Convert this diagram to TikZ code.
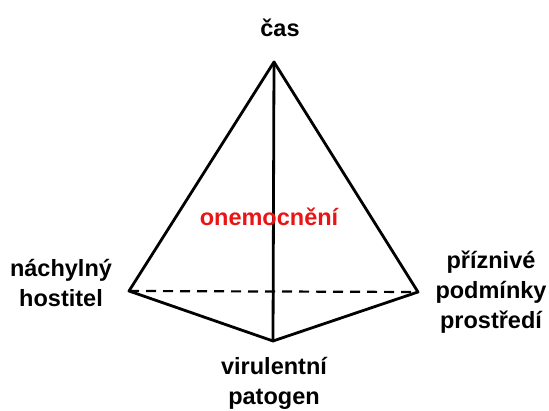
\documentclass[tikz,border=0pt]{standalone}
\usepackage{fontspec}
\setmainfont{Liberation Sans}
\definecolor{labelred}{RGB}{235,20,20}
\tikzset{
  edge/.style={line width=2.8pt, line cap=round, line join=round},
  hidden/.style={line width=2.2pt, dash pattern=on 10pt off 7pt},
  lbl/.style={font=\fontsize{23.5}{30}\selectfont\bfseries, align=center, inner sep=0pt},
}
\begin{document}
\begin{tikzpicture}[x=1pt,y=-1pt]
\useasboundingbox (0,0) rectangle (549,411);
\coordinate (A) at (274,62);
\coordinate (L) at (129,291);
\coordinate (R) at (418,292);
\coordinate (B) at (273,341);
\draw[hidden] (L) -- (R);
\draw[edge] (A) -- (L) -- (B) -- (R) -- cycle;
\draw[edge] (A) -- (B);
\node[lbl, anchor=base] (cas) at (280,37) {čas};
\node[lbl, anchor=base, text=labelred] (dis) at (269,226) {onemocnění};
\node[lbl, anchor=north] (host) at (61,259) {náchylný\\hostitel};
\node[lbl, anchor=north] (env) at (491,251) {příznivé\\podmínky\\prostředí};
\node[lbl, anchor=north] (pat) at (274,357) {virulentní\\patogen};
\end{tikzpicture}
\end{document}
